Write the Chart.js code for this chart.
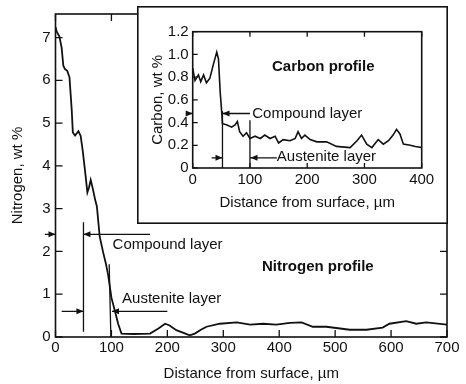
<!DOCTYPE html>
<html lang="en">
<head>
<meta charset="UTF-8">
<title>Nitrogen and carbon profiles</title>
<script src="https://cdn.jsdelivr.net/npm/chart.js"></script>
<style>
body { margin: 0; background: #fff; }
.wrap { position: relative; width: 466px; height: 384px; }
#main { position: absolute; left: 0; top: 0; }
#inset { position: absolute; left: 137px; top: 6px; }
</style>
</head>
<body>
<div class="wrap">
    <canvas id="main" width="466" height="384"></canvas>
    <canvas id="inset" width="311" height="218"></canvas>
</div>
<script>
// nitrogen profile (main plot), distance in um, wt %
const nitrogenX = [0, 2, 7, 11, 14, 17, 21, 25, 29, 31, 35, 41, 45, 49, 53, 57, 60, 63, 67, 71, 74, 79, 85, 90, 94, 100,
    106, 112, 118, 140, 169, 184, 196, 204, 216, 230, 240, 249, 260, 270, 294, 324, 348, 371, 395, 419, 440, 460,
    484, 502, 526, 556, 585, 597, 627, 645, 663, 700];
const nitrogenY = [7.25, 7.14, 7.02, 6.76, 6.34, 6.26, 6.22, 6.07, 5.31, 4.78, 4.71, 4.81, 4.7, 4.32, 3.86, 3.38, 3.5, 3.67, 3.45, 3.2, 3.05, 2.35, 1.99, 1.72, 1.46, 0.92,
    0.62, 0.31, 0.08, 0.07, 0.08, 0.2, 0.31, 0.27, 0.16, 0.09, 0.04, 0.08, 0.17, 0.24, 0.31, 0.34, 0.29, 0.31, 0.29, 0.33, 0.34, 0.24,
    0.24, 0.21, 0.17, 0.17, 0.22, 0.31, 0.37, 0.31, 0.34, 0.29];

// carbon profile (inset)
const carbonX = [0, 4, 10, 14, 19, 24, 30, 36, 42, 45, 48, 51, 52, 59, 68, 74, 78, 82, 88, 94, 100, 109, 118, 126, 135, 144,
    150, 158, 170, 179, 184, 190, 196, 205, 217, 234, 251, 275, 287, 295, 304, 313, 324, 333, 342, 350, 356, 362,
    368, 380, 389, 400];
const carbonY = [0.88, 0.77, 0.82, 0.76, 0.82, 0.75, 0.79, 0.91, 1.02, 0.96, 0.67, 0.47, 0.39, 0.38, 0.36, 0.38, 0.41, 0.32, 0.28, 0.31, 0.26, 0.28, 0.26, 0.29, 0.26, 0.28,
    0.22, 0.25, 0.24, 0.26, 0.32, 0.26, 0.29, 0.25, 0.23, 0.23, 0.19, 0.18, 0.24, 0.29, 0.21, 0.18, 0.25, 0.21, 0.24, 0.29, 0.34, 0.3,
    0.21, 0.2, 0.19, 0.18];

const mainXTicks = [0, 100, 200, 300, 400, 500, 600, 700];
const mainYTicks = [0, 1, 2, 3, 4, 5, 6, 7];
const insetXTicks = [0, 100, 200, 300, 400];
const insetYTicks = [0, 0.2, 0.4, 0.6, 0.8, 1.0, 1.2];

const ink = '#111';
Chart.defaults.font.family = "'Liberation Sans', Arial, sans-serif";
Chart.defaults.font.size = 15;
Chart.defaults.color = ink;

// layer marks and labels, in data units: [x1, y1, x2, y2], arrows have their head at x2,y2
const nitrogenNotes = {
    lines: [[50, 0.12, 50, 2.68], [99, 0, 96, 1.7]],
    arrows: [[169, 2.4, 50, 2.4], [-19, 2.4, 0, 2.4], [11, 0.6, 50, 0.6], [200, 0.6, 101, 0.6]],
    texts: [['Compound layer', 102, 2.15, 'left', false], ['Austenite layer', 119, 0.89, 'left', false],
        ['Nitrogen profile', 469, 1.65, 'center', true]]
};
const carbonNotes = {
    lines: [[52, 0, 52, 0.5], [100, 0, 100, 0.42]],
    arrows: [[100, 0.48, 52, 0.48], [-8, 0.48, 0, 0.48], [33, 0.09, 52, 0.09], [147, 0.09, 101, 0.09]],
    texts: [['Compound layer', 104, 0.48, 'left', false], ['Austenite layer', 147, 0.1, 'left', false],
        ['Carbon profile', 228, 0.89, 'center', true]]
};

function arrowHead(ctx, x1, y1, x2, y2) {
    const a = Math.atan2(y2 - y1, x2 - x1);
    ctx.beginPath();
    ctx.moveTo(x2, y2);
    ctx.lineTo(x2 - 7 * Math.cos(a) + 3 * Math.sin(a), y2 - 7 * Math.sin(a) - 3 * Math.cos(a));
    ctx.lineTo(x2 - 7 * Math.cos(a) - 3 * Math.sin(a), y2 - 7 * Math.sin(a) + 3 * Math.cos(a));
    ctx.closePath();
    ctx.fill();
}

const decor = {
    id: 'decor',
    beforeDraw(chart, args, o) {
        if (!o.frame) return;
        const ctx = chart.ctx;
        ctx.save();
        ctx.fillStyle = '#fff';
        ctx.fillRect(0, 0, chart.width, chart.height);
        ctx.restore();
    },
    afterDraw(chart, args, o) {
        const {ctx, chartArea: a, scales: {x, y}} = chart;
        ctx.save();
        ctx.strokeStyle = ink;
        ctx.fillStyle = ink;
        ctx.lineWidth = 1.6;
        ctx.strokeRect(a.left, a.top, a.right - a.left, a.bottom - a.top);
        if (o.frame) ctx.strokeRect(0.8, 0.8, chart.width - 1.6, chart.height - 1.6);

        // ticks point into the plot
        ctx.lineWidth = 1.3;
        ctx.beginPath();
        x.ticks.forEach(t => {
            const px = x.getPixelForValue(t.value);
            ctx.moveTo(px, a.bottom); ctx.lineTo(px, a.bottom - o.tick);
            ctx.moveTo(px, a.top); ctx.lineTo(px, a.top + o.tick);
        });
        y.ticks.forEach(t => {
            const py = y.getPixelForValue(t.value);
            ctx.moveTo(a.left, py); ctx.lineTo(a.left + o.tick, py);
            if (o.rightTicks) { ctx.moveTo(a.right, py); ctx.lineTo(a.right - o.tick, py); }
        });
        ctx.stroke();

        const n = o.notes;
        ctx.lineWidth = 1.3;
        ctx.beginPath();
        n.lines.concat(n.arrows).forEach(l => {
            ctx.moveTo(x.getPixelForValue(l[0]), y.getPixelForValue(l[1]));
            ctx.lineTo(x.getPixelForValue(l[2]), y.getPixelForValue(l[3]));
        });
        ctx.stroke();
        n.arrows.forEach(l => arrowHead(ctx, x.getPixelForValue(l[0]), y.getPixelForValue(l[1]),
            x.getPixelForValue(l[2]), y.getPixelForValue(l[3])));

        ctx.textBaseline = 'middle';
        n.texts.forEach(t => {
            ctx.font = (t[4] ? 'bold ' : '') + "15px 'Liberation Sans', Arial, sans-serif";
            ctx.textAlign = t[3];
            ctx.fillText(t[0], x.getPixelForValue(t[1]), y.getPixelForValue(t[2]));
        });
        ctx.restore();
    }
};

function points(xs, ys) {
    return xs.map((v, i) => ({x: v, y: ys[i]}));
}

function fixTicks(values) {
    return scale => { scale.ticks = values.map(v => ({value: v})); };
}

const noGrid = {display: false, drawTicks: false, tickLength: 0};

new Chart(document.getElementById('main'), {
    type: 'line',
    data: {
        datasets: [{
            data: points(nitrogenX, nitrogenY),
            borderColor: ink,
            borderWidth: 1.8,
            pointRadius: 0,
            tension: 0
        }]
    },
    options: {
        responsive: false,
        animation: false,
        layout: {padding: {left: 0, top: 7, right: 19, bottom: 0}},
        plugins: {
            legend: {display: false},
            tooltip: {enabled: false},
            decor: {notes: nitrogenNotes, tick: 7, rightTicks: true, frame: false}
        },
        scales: {
            x: {
                type: 'linear', min: 0, max: 700,
                afterBuildTicks: fixTicks(mainXTicks),
                afterFit: s => { s.height = 47; },
                grid: noGrid,
                border: {display: false},
                ticks: {padding: 2, maxRotation: 0, autoSkip: false},
                title: {display: true, text: 'Distance from surface, µm', padding: {top: 0, bottom: 1}}
            },
            y: {
                type: 'linear', min: 0, max: 7.55,
                afterBuildTicks: fixTicks(mainYTicks),
                afterFit: s => { s.width = 55.5; },
                grid: noGrid,
                border: {display: false},
                ticks: {padding: 5},
                title: {display: true, text: 'Nitrogen, wt %', padding: {top: 9, bottom: 0}}
            }
        }
    },
    plugins: [decor]
});

new Chart(document.getElementById('inset'), {
    type: 'line',
    data: {
        datasets: [{
            data: points(carbonX, carbonY),
            borderColor: ink,
            borderWidth: 1.6,
            pointRadius: 0,
            tension: 0
        }]
    },
    options: {
        responsive: false,
        animation: false,
        layout: {padding: {left: 0, top: 25.7, right: 26.3, bottom: 0}},
        plugins: {
            legend: {display: false},
            tooltip: {enabled: false},
            decor: {notes: carbonNotes, tick: 5, rightTicks: false, frame: true}
        },
        scales: {
            x: {
                type: 'linear', min: 0, max: 400,
                afterBuildTicks: fixTicks(insetXTicks),
                afterFit: s => { s.height = 56; },
                grid: noGrid,
                border: {display: false},
                ticks: {padding: 3, maxRotation: 0, autoSkip: false},
                title: {display: true, text: 'Distance from surface, µm', padding: {top: 0, bottom: 12}}
            },
            y: {
                type: 'linear', min: 0, max: 1.2,
                afterBuildTicks: fixTicks(insetYTicks),
                afterFit: s => { s.width = 55.7; },
                grid: noGrid,
                border: {display: false},
                ticks: {padding: 4, callback: v => v === 0 ? '0' : v.toFixed(1)},
                title: {display: true, text: 'Carbon, wt %', padding: {top: 12, bottom: 0}}
            }
        }
    },
    plugins: [decor]
});
</script>
</body>
</html>
